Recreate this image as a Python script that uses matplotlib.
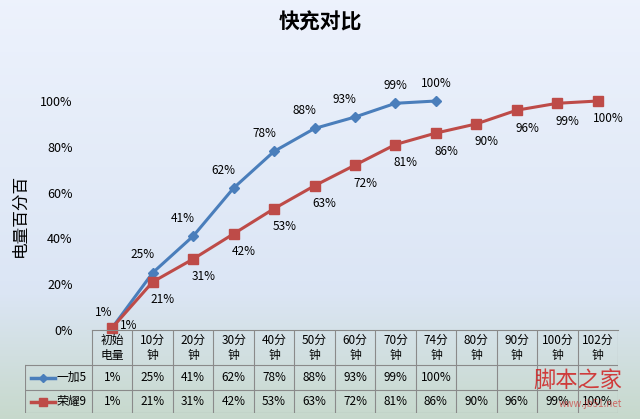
import numpy as np
import matplotlib.pyplot as plt

plt.rcParams['font.family'] = ['Noto Sans CJK SC', 'DejaVu Sans']

categories = ['初始\n电量', '10分\n钟', '20分\n钟', '30分\n钟', '40分\n钟', '50分\n钟', '60分\n钟',
              '70分\n钟', '74分\n钟', '80分\n钟', '90分\n钟', '100分\n钟', '102分\n钟']
oneplus = [1, 25, 41, 62, 78, 88, 93, 99, 100]
honor = [1, 21, 31, 42, 53, 63, 72, 81, 86, 90, 96, 99, 100]
names = ['一加5', '荣耀9']
colors = ['#4a7ebb', '#be4b48']

W, H = 640, 419
fig = plt.figure(figsize=(W / 100, H / 100), dpi=100)

# gradient background
bg = fig.add_axes([0, 0, 1, 1])
top = np.array([0.93, 0.95, 0.99])
mid = np.array([0.86, 0.90, 0.96])
bot = np.array([0.78, 0.85, 0.80])
t = np.linspace(0, 1, 200)[:, None]
grad = np.where(t < 0.7, top + (mid - top) * (t / 0.7), mid + (bot - mid) * ((t - 0.7) / 0.3))
bg.imshow(grad[:, None, :].repeat(2, axis=1), aspect='auto', extent=[0, 1, 0, 1])
bg.axis('off')

def fx(px):
    return px / W

def fy(py):
    return 1 - py / H

x0, x1 = 92, 618
ax = fig.add_axes([fx(x0), fy(330), fx(x1) - fx(x0), fy(101) - fy(330)])
ax.patch.set_alpha(0)
n = len(categories)
ax.set_xlim(-0.5, n - 0.5)
ax.set_ylim(0, 100)
ax.set_yticks(range(0, 101, 20))
ax.set_yticklabels([f'{v}%' for v in range(0, 101, 20)], fontsize=9)
ax.set_xticks([])
for s in ['top', 'right', 'left']:
    ax.spines[s].set_visible(False)
ax.spines['bottom'].set_color('#888888')
ax.tick_params(axis='y', length=0, pad=14)
ax.set_ylabel('电量百分百', fontsize=12, labelpad=8)

series = [oneplus, honor]
markers = ['D', 's']
msizes = [5, 7]
for vals, c, m, ms in zip(series, colors, markers, msizes):
    ax.plot(range(len(vals)), vals, color=c, lw=2.2, marker=m, ms=ms, clip_on=False)

for i, v in enumerate(oneplus):
    dx = -0.25 if i < 7 else 0
    ax.text(i + dx if i else i - 0.2, v + 5 if i else v + 4, f'{v}%', fontsize=8.5, ha='center', va='bottom')
for i, v in enumerate(honor):
    if i == 0:
        ax.text(i + 0.4, v + 1, f'{v}%', fontsize=8.5, ha='center', va='center')
    else:
        ax.text(i + 0.25, v - 5, f'{v}%', fontsize=8.5, ha='center', va='top')

fig.text(0.5, fy(22), '快充对比', fontsize=15, fontweight='bold', ha='center', va='center')

# data table
tab = fig.add_axes([fx(25), fy(413), fx(x1) - fx(25), fy(330) - fy(413)])
tab.patch.set_alpha(0)
left = -0.5 - (x0 - 25) / ((x1 - x0) / n)
tab.set_xlim(left, n - 0.5)
tab.set_ylim(0, 83)
tab.axis('off')
lc = '#8a8a8a'
rows = [83, 48, 23, 0]
for y in rows[1:]:
    tab.plot([left, n - 0.5], [y, y], color=lc, lw=0.8)
for i in range(n + 1):
    tab.plot([i - 0.5] * 2, [0, 83], color=lc, lw=0.8)
tab.plot([left] * 2, [0, 48], color=lc, lw=0.8)
for i, c in enumerate(categories):
    tab.text(i, 65, c, fontsize=8.5, ha='center', va='center', linespacing=1.2)
for r, (vals, c, m, ms, nm) in enumerate(zip(series, colors, markers, msizes, names)):
    yc = 35.5 if r == 0 else 11.5
    tab.plot([left + 0.15, left + 0.75], [yc, yc], color=c, lw=2.5)
    tab.plot([left + 0.45], [yc], color=c, marker=m, ms=ms - 1)
    tab.text(left + 0.78, yc, nm, fontsize=8.5, ha='left', va='center')
    for i, v in enumerate(vals):
        tab.text(i, yc, f'{v}%', fontsize=8.5, ha='center', va='center')

fig.text(fx(622), fy(380), '脚本之家', color='#d02020', fontsize=16, ha='right', va='center', alpha=0.85)
fig.text(fx(622), fy(404), 'www.jb51.net', color='#d02020', fontsize=7, ha='right', va='center', alpha=0.6)

fig.savefig('out.png', dpi=100)
